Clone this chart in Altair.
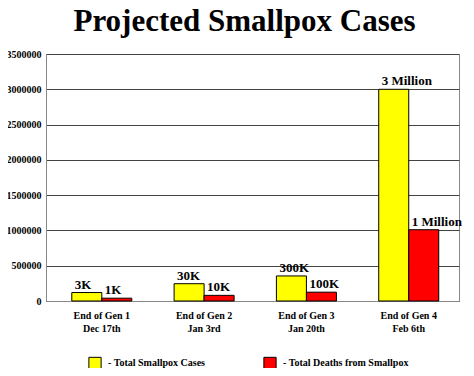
import altair as alt
import pandas as pd

categories = ["End of Gen 1\nDec 17th", "End of Gen 2\nJan 3rd", "End of Gen 3\nJan 20th", "End of Gen 4\nFeb 6th"]
series = ["Total Smallpox Cases", "Total Deaths from Smallpox"]
cases = [120000, 245000, 355000, 3000000]
deaths = [40000, 80000, 125000, 1010000]
case_labels = ["3K", "30K", "300K", "3 Million"]
death_labels = ["1K", "10K", "100K", "1 Million"]
y_ticks = [0, 500000, 1000000, 1500000, 2000000, 2500000, 3000000, 3500000]

rows = []
for c, v, l in zip(categories, cases, case_labels):
    rows.append({"cat": c, "series": series[0], "value": v, "label": l})
for c, v, l in zip(categories, deaths, death_labels):
    rows.append({"cat": c, "series": series[1], "value": v, "label": l})
df = pd.DataFrame(rows)

FONT = "Liberation Serif"

x = alt.X("cat:N", sort=categories, title=None,
          scale=alt.Scale(paddingInner=0.4135, paddingOuter=0.225, align=0.56),
          axis=alt.Axis(labelExpr="split(datum.label, '\\n')", labelAngle=0,
                        labelFont=FONT, labelFontWeight="bold", labelFontSize=10,
                        labelColor="black", labelPadding=9, ticks=False,
                        domainColor="#888888", labelLineHeight=13))
xoff = alt.XOffset("series:N", sort=series, scale=alt.Scale(paddingInner=0, paddingOuter=0))
y = alt.Y("value:Q", title=None,
          scale=alt.Scale(domain=[0, 3500000], nice=False, zero=True),
          axis=alt.Axis(values=y_ticks, tickCount=8,
                        format="d", labelFont=FONT, labelFontWeight="bold", labelFontSize=10,
                        labelColor="black", ticks=False, labelPadding=5, labelOverlap=False,
                        domainColor="#888888", gridColor="#444444", gridWidth=1))
color = alt.Color("series:N", sort=series,
                  scale=alt.Scale(domain=series, range=["#FFFF00", "#FF0000"]),
                  legend=alt.Legend(title=None, orient="none", legendX=42, legendY=302,
                                    direction="horizontal", symbolType="square",
                                    symbolSize=150, symbolStrokeColor="black",
                                    symbolStrokeWidth=1, symbolOpacity=1,
                                    labelFont=FONT, labelFontWeight="bold", labelFontSize=10,
                                    labelColor="black", labelExpr="'- ' + datum.label",
                                    columnPadding=55, padding=0, symbolOffset=0,
                                    labelOffset=6, labelLimit=300))

bars = alt.Chart(df).mark_bar(stroke="black", strokeWidth=1).encode(
    x=x, xOffset=xoff, y=y, color=color)

text = alt.Chart(df).mark_text(align="left", baseline="alphabetic", dx=-12, dy=-4,
                               font=FONT, fontWeight="bold", fontSize=13, color="black").encode(
    x=x, xOffset=xoff, y=y, text="label:N")

chart = alt.layer(bars, text).properties(
    width=413, height=247,
    autosize=alt.AutoSizeParams(type="none"),
    padding={"left": 38, "top": 46, "right": 7, "bottom": 67},
    title=alt.Title("Projected Smallpox Cases", font=FONT, fontWeight="bold",
                    fontSize=31, color="black", anchor="middle", dx=-8, offset=11),
).configure_view(stroke="#888888", strokeWidth=1)

chart.save("out.html", embed_options={"renderer": "svg", "actions": False})
